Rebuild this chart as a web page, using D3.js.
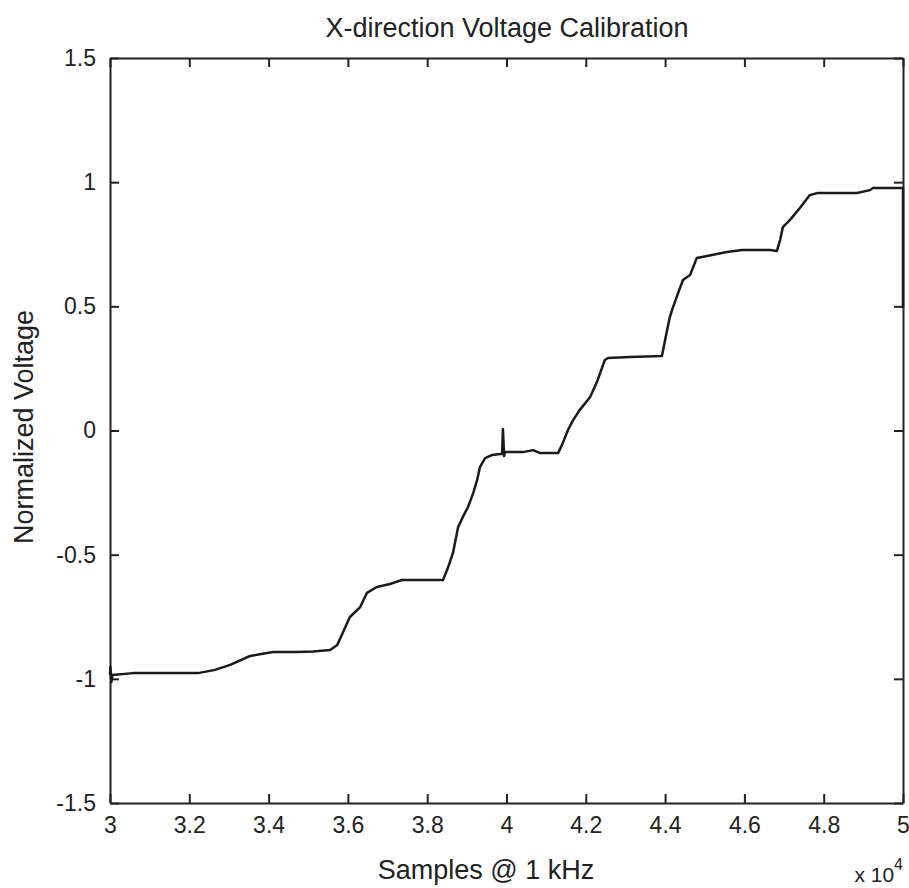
<!DOCTYPE html>
<html>
<head>
<meta charset="utf-8">
<script src="https://cdn.jsdelivr.net/npm/d3@7"></script>
<style>
  body { margin: 0; background: #fff; }
  text { font-family: "Liberation Sans", Arial, sans-serif; fill: #222; }
</style>
</head>
<body>
<svg id="chart" width="909" height="888"></svg>
<script>
    // samples (raw count @ 1 kHz) and normalized voltage
    var samples = [
        30000, 30010, 30035, 30060, 30580, 32220, 32650, 33030, 33530, 34110,
        34720, 35120, 35550, 35730, 35880, 36050, 36310, 36480, 36730, 37060,
        37360, 38400, 38520, 38650, 38780, 38900, 39030, 39160, 39260, 39330,
        39460, 39630, 39840, 39890, 39910, 39940, 39960, 40420, 40670, 40850,
        41300, 41400, 41550, 41680, 41850, 42110, 42280, 42480, 42560, 43110,
        43920, 44000, 44120, 44200, 44330, 44450, 44630, 44800, 45060, 45560,
        45940, 46650, 46820, 46900, 46970, 47150, 47400, 47650, 47830, 48840,
        49170, 49240, 49970, 50000, 50000
    ];
    var voltage = [
        -0.985, -0.952, -1.013, -0.985, -0.977, -0.977, -0.964, -0.944, -0.908, -0.892,
        -0.892, -0.890, -0.884, -0.864, -0.811, -0.751, -0.711, -0.654, -0.630, -0.618,
        -0.602, -0.602, -0.554, -0.493, -0.389, -0.348, -0.308, -0.252, -0.199, -0.147,
        -0.111, -0.099, -0.095, -0.095, 0.006, -0.103, -0.087, -0.087, -0.079, -0.091,
        -0.091, -0.058, 0.002, 0.042, 0.083, 0.135, 0.195, 0.284, 0.292, 0.296,
        0.300, 0.364, 0.457, 0.497, 0.554, 0.606, 0.626, 0.695, 0.703, 0.719,
        0.727, 0.727, 0.723, 0.767, 0.819, 0.848, 0.896, 0.948, 0.956, 0.956,
        0.968, 0.977, 0.977, 0.977, 0.493
    ];
    var xTicks = [30000, 32000, 34000, 36000, 38000, 40000, 42000, 44000, 46000, 48000, 50000];
    var yTicks = [-1.5, -1, -0.5, 0, 0.5, 1, 1.5];

    var margin = {top: 58, right: 6, bottom: 85, left: 110};
    var width = 909 - margin.left - margin.right;
    var height = 888 - margin.top - margin.bottom;

    var svg = d3.select("#chart");
    var g = svg.append("g").attr("transform", "translate(" + margin.left + "," + margin.top + ")");

    var xScale = d3.scaleLinear().domain([30000, 50000]).range([0, width]);
    var yScale = d3.scaleLinear().domain([-1.5, 1.5]).range([height, 0]);

    // plain hyphen for negatives, like the original
    var fmtX = (d) => String(+(d / 1e4).toFixed(1));
    var fmtY = (d) => String(d);

    // frame with inward ticks on all four sides (matlab style)
    var tickLen = 9;
    var styleAxis = function(sel) {
      sel.selectAll(".domain").attr("stroke", "#222").attr("stroke-width", 2);
      sel.selectAll(".tick line").attr("stroke", "#222").attr("stroke-width", 2);
      sel.selectAll(".tick text").style("font-size", "23px").attr("fill", "#222")
        .style("font-family", "'Liberation Sans', Arial, sans-serif");
    };

    g.append("g").attr("transform", "translate(0," + height + ")")
      .call(d3.axisBottom(xScale).tickValues(xTicks).tickFormat(fmtX).tickSizeInner(-tickLen).tickSizeOuter(0).tickPadding(14))
      .call(styleAxis);
    g.append("g")
      .call(d3.axisTop(xScale).tickValues(xTicks).tickFormat("").tickSizeInner(-tickLen).tickSizeOuter(0))
      .call(styleAxis);
    g.append("g")
      .call(d3.axisLeft(yScale).tickValues(yTicks).tickFormat(fmtY).tickSizeInner(-tickLen).tickSizeOuter(0).tickPadding(14))
      .call(styleAxis);
    g.append("g").attr("transform", "translate(" + width + ",0)")
      .call(d3.axisRight(yScale).tickValues(yTicks).tickFormat("").tickSizeInner(-tickLen).tickSizeOuter(0))
      .call(styleAxis);

    var line = d3.line()
      .x((d, i) => xScale(samples[i]))
      .y((d) => yScale(d));

    g.append("path")
      .datum(voltage)
      .attr("d", line)
      .attr("fill", "none")
      .attr("stroke", "#1a1a1a")
      .attr("stroke-width", 2.5)
      .attr("stroke-linejoin", "round");

    // title + labels
    svg.append("text")
      .attr("x", 507)
      .attr("y", 37)
      .attr("text-anchor", "middle")
      .style("font-size", "27px")
      .text("X-direction Voltage Calibration");

    svg.append("text")
      .attr("x", 486)
      .attr("y", 879)
      .attr("text-anchor", "middle")
      .style("font-size", "27px")
      .text("Samples @ 1 kHz");

    svg.append("text")
      .attr("transform", "translate(33,427) rotate(-90)")
      .attr("text-anchor", "middle")
      .style("font-size", "27px")
      .text("Normalized Voltage");

    var expo = svg.append("text")
      .attr("x", 903)
      .attr("y", 882)
      .attr("text-anchor", "end")
      .style("font-size", "21px");
    expo.append("tspan").text("x 10");
    expo.append("tspan").attr("dy", -12).style("font-size", "16px").text("4");
</script>
</body>
</html>
